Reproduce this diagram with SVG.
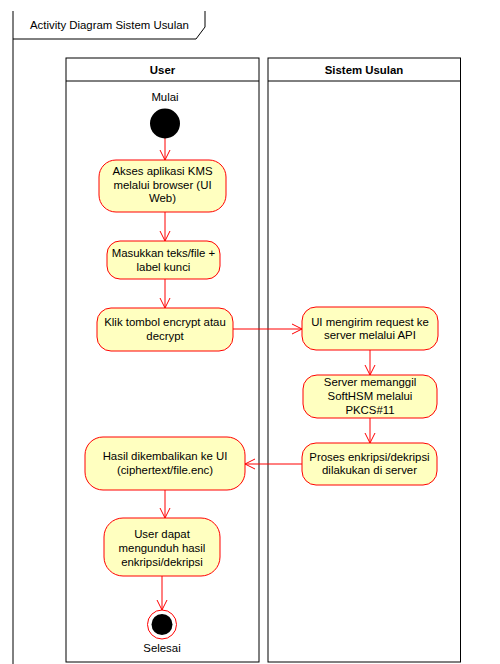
<svg xmlns="http://www.w3.org/2000/svg" width="500" height="664" viewBox="0 0 500 664">
  <style>
    text { font-family: "Liberation Sans", Arial, Helvetica, sans-serif; font-size: 11.4px; fill: #000; }
    .lbl { text-anchor: middle; }
    .hdr { text-anchor: middle; font-weight: bold; }
    .frame { fill: none; stroke: #000; stroke-width: 1; }
    .lane { fill: #fff; stroke: #000; stroke-width: 1; }
    .act { fill: #ffffc0; stroke: #ff0000; stroke-width: 1; }
    .flow { fill: none; stroke: #ff0000; stroke-width: 1; marker-end: url(#open); }
  </style>
  <defs>
    <marker id="open" viewBox="0 0 12 12" refX="11" refY="6" markerWidth="12" markerHeight="12" markerUnits="userSpaceOnUse" orient="auto">
      <path d="M1,1 L11,6 L1,11" fill="none" stroke="#ff0000" stroke-width="1"/>
    </marker>
  </defs>
  <rect width="500" height="664" fill="#fff"/>

  <!-- frame -->
  <g id="frame">
    <path class="frame" d="M13,11 V664"/>
    <path class="frame" d="M205,11 V27 L196,39 H13"/>
    <text x="30" y="29">Activity Diagram Sistem Usulan</text>
  </g>

  <!-- swimlanes -->
  <g id="lane-user">
    <rect class="lane" x="66" y="58" width="193" height="604"/>
    <line x1="66" y1="81" x2="259" y2="81" stroke="#000"/>
    <text class="hdr" x="162.5" y="74">User</text>
  </g>
  <g id="lane-sistem">
    <rect class="lane" x="268" y="58" width="192.5" height="604"/>
    <line x1="268" y1="81" x2="460.5" y2="81" stroke="#000"/>
    <text class="hdr" x="364" y="74">Sistem Usulan</text>
  </g>

  <!-- connectors -->
  <g id="connectors">
    <path class="flow" d="M165,138 V160"/>
    <path class="flow" d="M165,212 V241"/>
    <path class="flow" d="M165,279 V308"/>
    <path class="flow" d="M233,329 H302"/>
    <path class="flow" d="M370,350 V375"/>
    <path class="flow" d="M370,418 V443"/>
    <path class="flow" d="M302,464 H245"/>
    <path class="flow" d="M165,490 V518"/>
    <path class="flow" d="M162,576 V610"/>
  </g>

  <!-- nodes -->
  <g id="start">
    <text class="lbl" x="165" y="101">Mulai</text>
    <circle cx="165" cy="123.5" r="15" fill="#000"/>
  </g>
  <g id="akses">
    <rect class="act" x="99" y="160" width="127" height="52" rx="17" ry="17"/>
    <text class="lbl" x="162.5" y="175">Akses aplikasi KMS</text>
    <text class="lbl" x="162.5" y="189">melalui browser (UI</text>
    <text class="lbl" x="162.5" y="202">Web)</text>
  </g>
  <g id="masukkan">
    <rect class="act" x="107" y="241" width="113" height="38" rx="13" ry="13"/>
    <text class="lbl" x="163.5" y="257">Masukkan teks/file +</text>
    <text class="lbl" x="163.5" y="271">label kunci</text>
  </g>
  <g id="klik">
    <rect class="act" x="97" y="308" width="136" height="43" rx="14" ry="14"/>
    <text class="lbl" x="165" y="326">Klik tombol encrypt atau</text>
    <text class="lbl" x="165" y="340">decrypt</text>
  </g>
  <g id="kirim">
    <rect class="act" x="302" y="307" width="136" height="43" rx="14" ry="14"/>
    <text class="lbl" x="370" y="326">UI mengirim request ke</text>
    <text class="lbl" x="370" y="339">server melalui API</text>
  </g>
  <g id="panggil">
    <rect class="act" x="303" y="375" width="134" height="43" rx="14" ry="14"/>
    <text class="lbl" x="370" y="386">Server memanggil</text>
    <text class="lbl" x="370" y="400">SoftHSM melalui</text>
    <text class="lbl" x="370" y="414">PKCS#11</text>
  </g>
  <g id="proses">
    <rect class="act" x="302" y="443" width="135" height="42" rx="14" ry="14"/>
    <text class="lbl" x="369.5" y="461">Proses enkripsi/dekripsi</text>
    <text class="lbl" x="369.5" y="474">dilakukan di server</text>
  </g>
  <g id="hasil">
    <rect class="act" x="85" y="437" width="160" height="53" rx="18" ry="18"/>
    <text class="lbl" x="165" y="460">Hasil dikembalikan ke UI</text>
    <text class="lbl" x="165" y="474">(ciphertext/file.enc)</text>
  </g>
  <g id="unduh">
    <rect class="act" x="104" y="518" width="116" height="58" rx="19" ry="19"/>
    <text class="lbl" x="162" y="538">User dapat</text>
    <text class="lbl" x="162" y="552">mengunduh hasil</text>
    <text class="lbl" x="162" y="566">enkripsi/dekripsi</text>
  </g>
  <g id="end">
    <circle cx="162" cy="624.5" r="14.5" fill="#fff" stroke="#ff0000"/>
    <circle cx="162" cy="624.5" r="10.5" fill="#000"/>
    <text class="lbl" x="162" y="652">Selesai</text>
  </g>
</svg>
